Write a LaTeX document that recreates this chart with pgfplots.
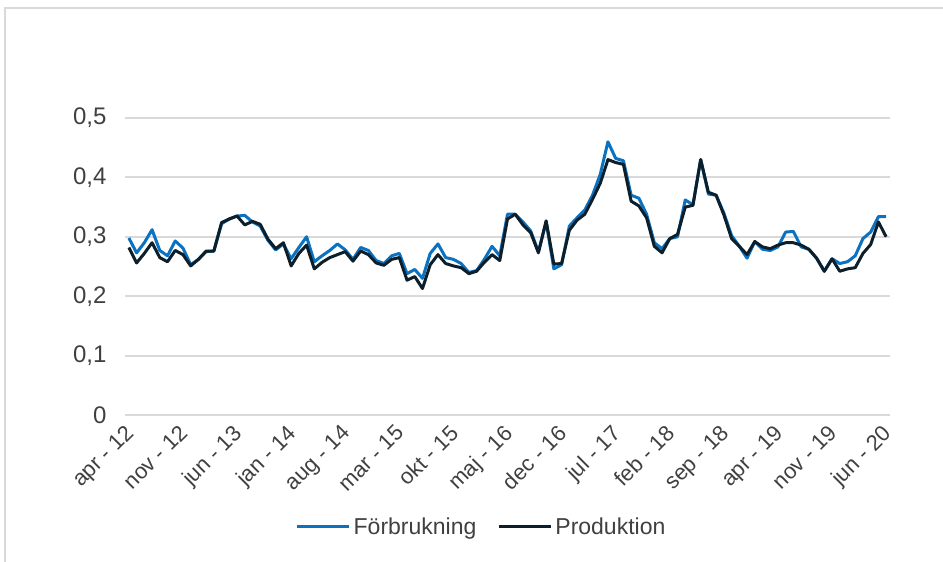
\documentclass[border=0pt]{standalone}
\usepackage{fontspec}
\setmainfont{Liberation Sans}
\usepackage{pgfplots}
\pgfplotsset{compat=1.18}
\usepackage{pgfplotstable}

\definecolor{forbblue}{HTML}{0A72C0}
\definecolor{prodnavy}{HTML}{0C1F2B}
\definecolor{gridgray}{HTML}{D9D9D9}
\definecolor{labelgray}{HTML}{404040}

% Monthly series, apr-12 (idx 0) to jun-20 (idx 98)
\pgfplotstableread{
idx forb prod
0 0.298 0.282
1 0.273 0.256
2 0.290 0.272
3 0.312 0.290
4 0.277 0.265
5 0.268 0.258
6 0.293 0.277
7 0.281 0.270
8 0.253 0.251
9 0.262 0.262
10 0.275 0.276
11 0.276 0.276
12 0.322 0.324
13 0.330 0.330
14 0.335 0.335
15 0.336 0.320
16 0.325 0.326
17 0.318 0.321
18 0.294 0.296
19 0.278 0.280
20 0.288 0.290
21 0.263 0.251
22 0.282 0.272
23 0.300 0.286
24 0.258 0.246
25 0.268 0.257
26 0.277 0.265
27 0.288 0.270
28 0.278 0.275
29 0.262 0.259
30 0.282 0.276
31 0.277 0.270
32 0.260 0.256
33 0.255 0.252
34 0.268 0.262
35 0.272 0.265
36 0.238 0.227
37 0.245 0.233
38 0.230 0.213
39 0.272 0.253
40 0.288 0.270
41 0.265 0.255
42 0.262 0.251
43 0.255 0.248
44 0.240 0.238
45 0.243 0.242
46 0.262 0.257
47 0.284 0.270
48 0.268 0.260
49 0.338 0.330
50 0.338 0.338
51 0.325 0.320
52 0.310 0.307
53 0.275 0.273
54 0.325 0.327
55 0.246 0.254
56 0.253 0.255
57 0.318 0.311
58 0.332 0.328
59 0.345 0.338
60 0.370 0.363
61 0.405 0.390
62 0.460 0.430
63 0.432 0.425
64 0.428 0.422
65 0.370 0.360
66 0.365 0.352
67 0.338 0.332
68 0.290 0.284
69 0.280 0.273
70 0.297 0.297
71 0.300 0.304
72 0.362 0.350
73 0.354 0.353
74 0.430 0.430
75 0.372 0.375
76 0.370 0.370
77 0.340 0.337
78 0.302 0.297
79 0.284 0.284
80 0.264 0.270
81 0.292 0.292
82 0.279 0.283
83 0.277 0.280
84 0.283 0.286
85 0.308 0.290
86 0.309 0.290
87 0.283 0.286
88 0.279 0.279
89 0.264 0.264
90 0.242 0.242
91 0.263 0.263
92 0.255 0.242
93 0.258 0.246
94 0.268 0.248
95 0.297 0.272
96 0.308 0.287
97 0.334 0.325
98 0.334 0.300
}\datatable

\begin{document}
\begin{tikzpicture}
\useasboundingbox (0,0) rectangle (943pt,562pt);
% chart area border (left and top edges)
\draw[gridgray, line width=1.5pt] (5pt,0pt) -- (5pt,554pt) -- (943pt,554pt);
\begin{axis}[
  at={(125pt,147pt)}, anchor=south west,
  scale only axis, width=765pt, height=297pt,
  xmin=-0.5, xmax=98.5, ymin=0, ymax=0.5,
  axis line style={draw=none},
  major tick length=0pt,
  ymajorgrids, grid style={gridgray, line width=2pt},
  ytick={0,0.1,0.2,0.3,0.4,0.5},
  xtick={0,7,...,98},
  xticklabels={apr - 12, nov - 12, jun - 13, jan - 14, aug - 14, mar - 15, okt - 15, maj - 16, dec - 16, jul - 17, feb - 18, sep - 18, apr - 19, nov - 19, jun - 20},
  every tick label/.append style={text=labelgray},
  yticklabel style={font=\fontsize{24}{28}\selectfont, xshift=-15pt, /pgf/number format/.cd, fixed, precision=1, use comma, assume math mode=true},
  xticklabel style={font=\fontsize{22}{26}\selectfont, xshift=-5pt, yshift=-4pt, rotate=45, anchor=north east, inner sep=3pt},
  legend style={at={(0.4667,-0.377)}, anchor=center, draw=none,
    font=\fontsize{23}{27}\selectfont, text=labelgray,
    legend columns=2, /tikz/every even column/.append style={column sep=18pt},
    nodes={inner sep=3pt}},
  legend image code/.code={\draw[#1] (0pt,0pt) -- (52pt,0pt);},
]
\addplot[forbblue, line width=3pt, line join=round, no markers] table[x=idx, y=forb] {\datatable};
\addlegendentry{Förbrukning}
\addplot[prodnavy, line width=3pt, line join=round, no markers] table[x=idx, y=prod] {\datatable};
\addlegendentry{Produktion}
\end{axis}
\end{tikzpicture}
\end{document}
